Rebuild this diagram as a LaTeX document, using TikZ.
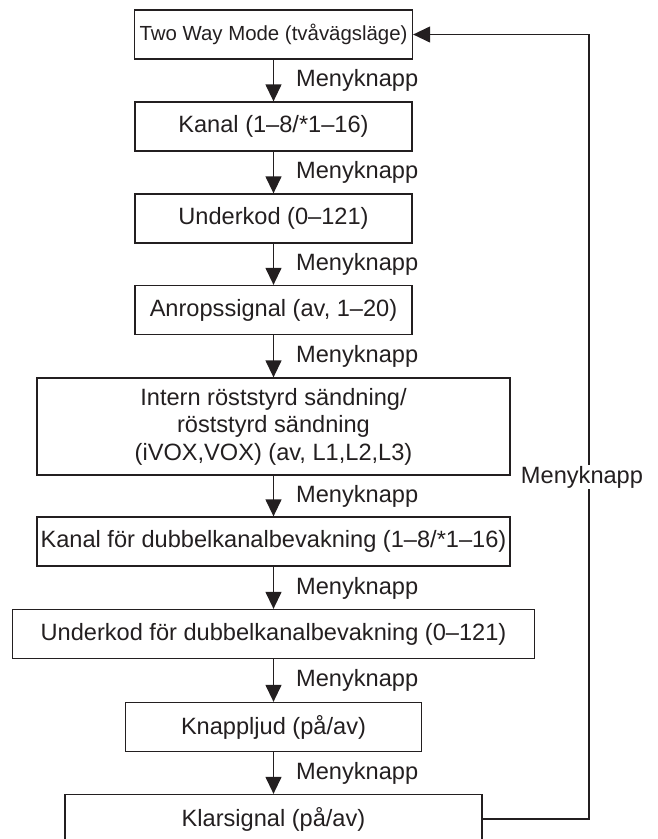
\documentclass[tikz,border=0pt]{standalone}
\usepackage{fontspec}
\setmainfont{Liberation Sans}
\usetikzlibrary{arrows.meta}
\definecolor{ink}{HTML}{231F20}
\begin{document}
\begin{tikzpicture}[x=1pt,y=-1pt,
  box/.style={draw=ink,line width=1.3pt,minimum height=49pt,inner sep=0pt,align=center,
    font=\fontsize{23.6}{27.5}\selectfont,text=ink},
  lbl/.style={font=\fontsize{23.6}{27.5}\selectfont,text=ink,anchor=west,inner sep=0pt},
  flow/.style={draw=ink,line width=1.3pt,-{Triangle[length=17pt,width=16pt]}}]
\useasboundingbox (0,0) rectangle (658,839);
\node[box,minimum width=278pt,font=\fontsize{20.4}{24}\selectfont] (b1) at (273.5,34.5) {Two Way Mode (tvåvägsläge)};
\node[box,minimum width=277pt] (b2) at (273.5,126.5) {Kanal (1–8/*1–16)};
\node[box,minimum width=277pt] (b3) at (273.5,218.5) {Underkod (0–121)};
\node[box,minimum width=277pt] (b4) at (273.5,310) {Anropssignal (av, 1–20)};
\node[box,minimum width=473pt,minimum height=97pt] (b5) at (273.5,426.5) {Intern röststyrd sändning/\\röststyrd sändning\\(iVOX,VOX) (av, L1,L2,L3)};
\node[box,minimum width=473pt] (b6) at (273.5,541.5) {Kanal för dubbelkanalbevakning (1–8/*1–16)};
\node[box,minimum width=522pt] (b7) at (273.5,634) {Underkod för dubbelkanalbevakning (0–121)};
\node[box,minimum width=296pt] (b8) at (273.5,727) {Knappljud (på/av)};
\node[box,minimum width=417pt] (b9) at (273.5,819) {Klarsignal (på/av)};
\draw[flow] (b1) -- (b2);
\draw[flow] (b2) -- (b3);
\draw[flow] (b3) -- (b4);
\draw[flow] (b4) -- (b5);
\draw[flow] (b5) -- (b6);
\draw[flow] (b6) -- (b7);
\draw[flow] (b7) -- (b8);
\draw[flow] (b8) -- (b9);
\node[lbl] (m1) at (296,80.5) {Menyknapp};
\node[lbl] (m2) at (296,172.5) {Menyknapp};
\node[lbl] (m3) at (296,264.5) {Menyknapp};
\node[lbl] (m4) at (296,356) {Menyknapp};
\node[lbl] (m5) at (296,496) {Menyknapp};
\node[lbl] (m6) at (296,588) {Menyknapp};
\node[lbl] (m7) at (296,680.5) {Menyknapp};
\node[lbl] (m8) at (296,773) {Menyknapp};
\coordinate (rx) at (589,0);
\draw[flow] (b9.east) -- (b9.east -| rx) -- (b1.east -| rx) -- (b1.east);
\node[font=\fontsize{23.6}{27.5}\selectfont,text=ink,fill=white,inner sep=1pt] (loop) at (582,477) {Menyknapp};
\end{tikzpicture}
\end{document}
